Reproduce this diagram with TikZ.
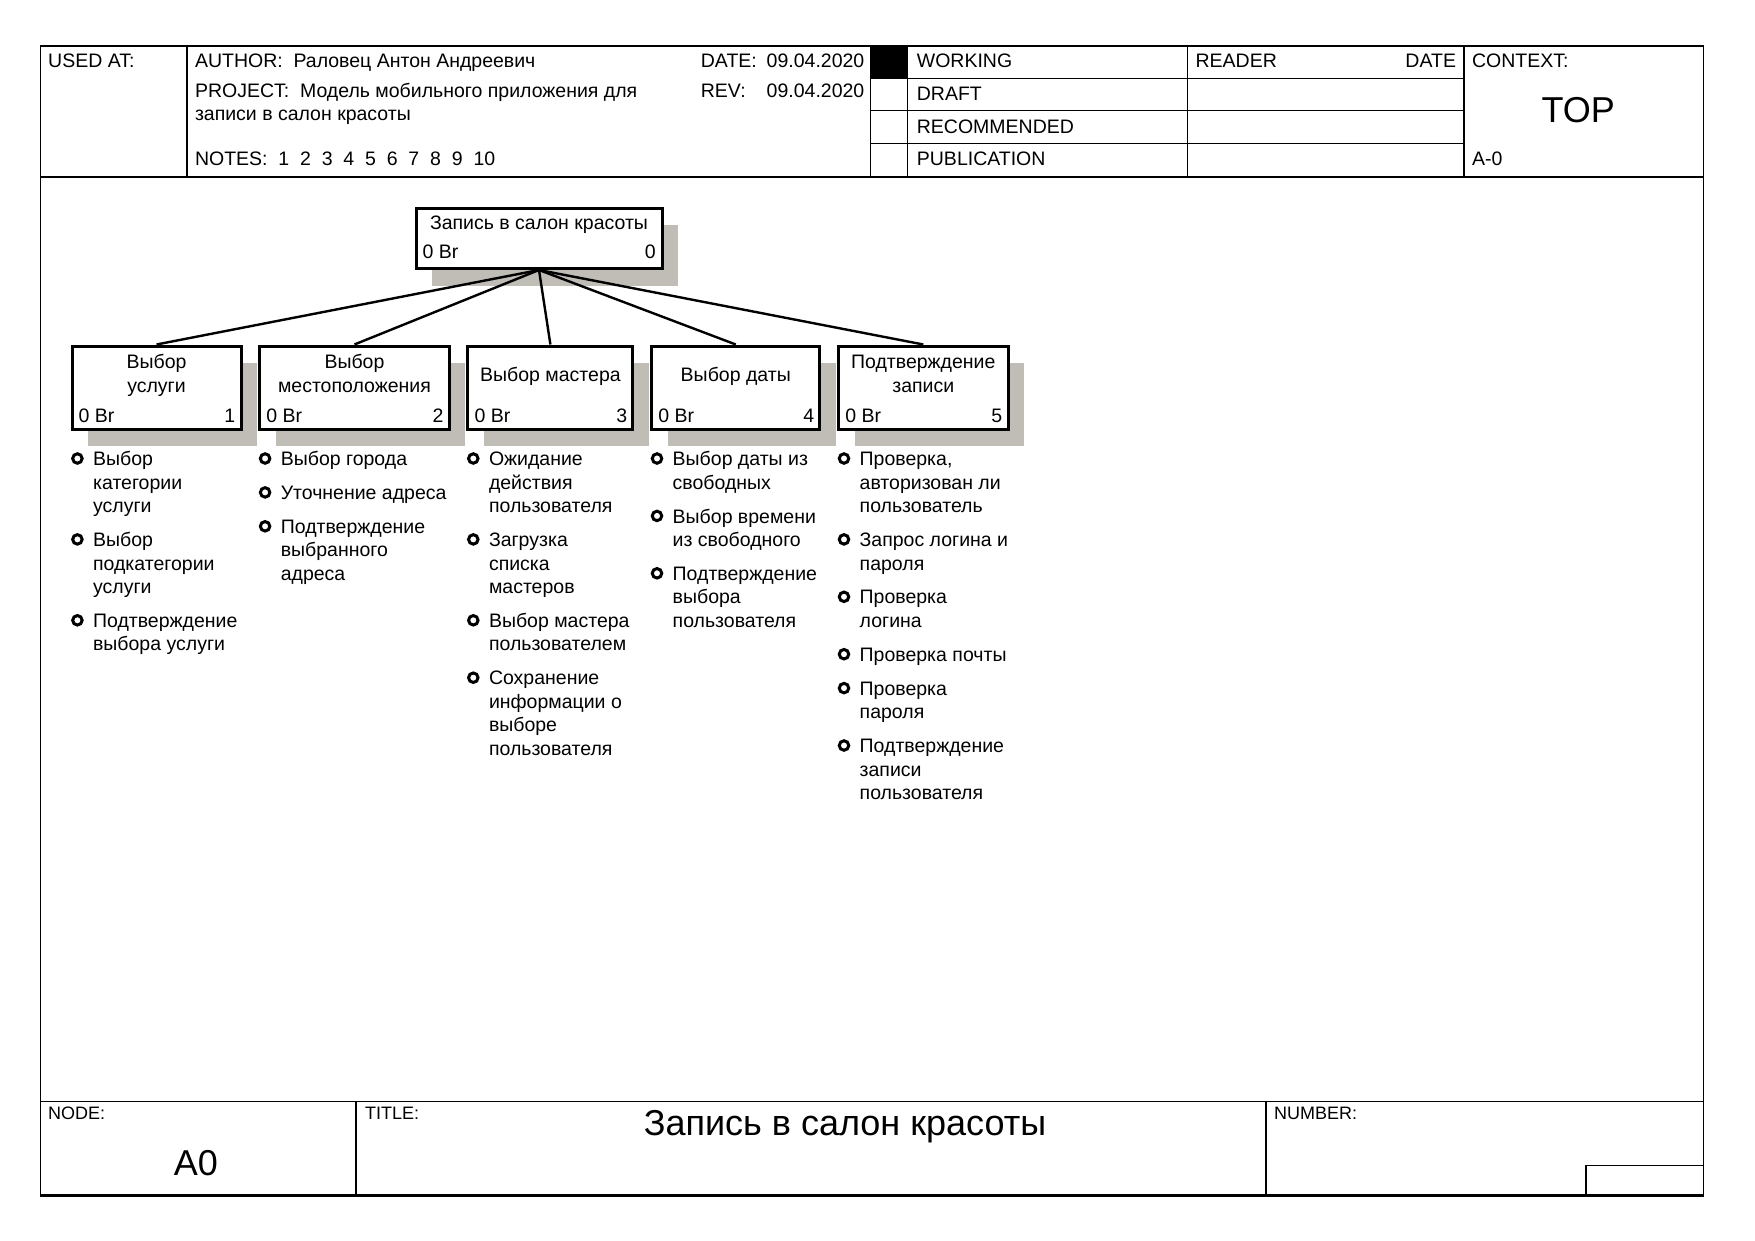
\documentclass[tikz,border=0pt]{standalone}
\usepackage{fontspec}
\setmainfont{Liberation Sans}
\usetikzlibrary{positioning}
\usetikzlibrary{shadows}

\definecolor{shadowgray}{RGB}{192,189,183}
\newcommand{\txt}{\fontsize{19.5}{23.5}\selectfont}
\newcommand{\bigtxt}{\fontsize{36}{40}\selectfont}
\newcommand{\lbltxt}{\fontsize{18}{21}\selectfont}
\newcommand{\ls}{\rule[-7.05pt]{0pt}{23.5pt}}

\begin{document}
\begin{tikzpicture}[x=1pt, y=-1pt,
    every node/.style={inner sep=0pt, font=\txt},
    frame/.style={line width=1.6pt},
    grid/.style={line width=1.2pt},
    hd/.style={anchor=base west},
    fn/.style={draw, fill=white, line width=3pt, minimum height=83pt,
      drop shadow={shadow xshift=16pt, shadow yshift=-17pt, fill=shadowgray, opacity=1}},
    ttl/.style={align=center},
    act/.style={align=left},
    dot/.style={circle, draw, line width=3pt, minimum size=9.5pt},
    link/.style={line width=2.4pt}]

    \useasboundingbox (0,0) rectangle (1755,1241);

    % form frame
    \draw[frame] (40.3,45.9) rectangle (1703.6,1195.4);
    \draw[line width=3.2pt] (40.3,1195.4) -- (1703.6,1195.4);
    \draw[line width=2pt] (40.3,176.9) -- (1703.6,176.9);
    \draw[grid] (186.9,45.9) -- (186.9,176.9);
    \draw[grid] (870.8,45.9) -- (870.8,176.9);
    \draw[grid] (907.7,45.9) -- (907.7,176.9);
    \draw[grid] (1187.6,45.9) -- (1187.6,176.9);
    \draw[grid] (1464,45.9) -- (1464,176.9);
    \draw[grid] (870.8,78.4) -- (1464,78.4);
    \draw[grid] (870.8,110.8) -- (1464,110.8);
    \draw[grid] (870.8,143.3) -- (1464,143.3);
    \fill (870.8,45.9) rectangle (907.7,78.4);
    \draw[grid] (40.3,1101.4) -- (1703.6,1101.4);
    \draw[grid] (355.9,1101.4) -- (355.9,1195.4);
    \draw[grid] (1265.9,1101.4) -- (1265.9,1195.4);
    \draw[grid] (1586,1195.4) -- (1586,1165.2) -- (1703.6,1165.2);

    % header
    \node[hd] (usedat) at (48,67.5) {USED AT:};
    \node[hd] (author) at (194.8,67.5) {AUTHOR:~~Раловец Антон Андреевич};
    \node[hd] (project) at (194.8,97.3) {PROJECT:~~Модель мобильного приложения для};
    \node[hd] (project2) at (194.8,120.8) {записи в салон красоты};
    \node[hd] (notes) at (194.8,165.8) {NOTES:~~1~~2~~3~~4~~5~~6~~7~~8~~9~~10};
    \node[hd] (date) at (700.7,67.5) {DATE:};
    \node[anchor=base east] (dateval) at (864.5,67.5) {09.04.2020};
    \node[hd] (rev) at (700.7,97.3) {REV:};
    \node[anchor=base east] (revval) at (864.5,97.3) {09.04.2020};
    \node[hd] (working) at (916.7,67.4) {WORKING};
    \node[hd] (draft) at (916.7,100.8) {DRAFT};
    \node[hd] (recommended) at (916.7,133.3) {RECOMMENDED};
    \node[hd] (publication) at (916.7,165.8) {PUBLICATION};
    \node[hd] (reader) at (1195.4,67.4) {READER};
    \node[anchor=base east] (readerdate) at (1456.2,67.4) {DATE};
    \node[hd] (context) at (1471.9,67.4) {CONTEXT:};
    \node[font=\bigtxt, anchor=base] (topmark) at (1578.2,122.2) {TOP};
    \node[hd] (aminus) at (1471.9,165.8) {A-0};

    % footer
    \node[hd, font=\lbltxt] (nodelbl) at (48,1119) {NODE:};
    \node[hd, font=\lbltxt] (titlelbl) at (364.9,1119) {TITLE:};
    \node[hd, font=\lbltxt] (numberlbl) at (1273.8,1119) {NUMBER:};
    \node[font=\bigtxt, anchor=base] (nodeval) at (195.9,1175.5) {A0};
    \node[font=\bigtxt, anchor=base] (titleval) at (845,1135.5) {Запись в салон красоты};

    % tree boxes
    \node[fn, minimum width=246pt, minimum height=60pt] (top) at (539,238.5) {};
    \node[fn, minimum width=169pt] (c1) at (156.5,387.5) {};
    \node[fn, minimum width=189.5pt, right=15.7pt of c1] (c2) {};
    \node[fn, minimum width=165pt, right=15.7pt of c2] (c3) {};
    \node[fn, minimum width=168.3pt, right=15.7pt of c3] (c4) {};
    \node[fn, minimum width=169.4pt, right=15.7pt of c4] (c5) {};

    \node[ttl, below=18.3pt of top.north, anchor=center] (topt) {\ls Запись в салон красоты\ls};
    \node[ttl, below=31.5pt of c1.north, anchor=center] (c1t) {\ls Выбор\\услуги\ls};
    \node[ttl, below=31.5pt of c2.north, anchor=center] (c2t) {\ls Выбор\\местоположения\ls};
    \node[ttl, below=32.5pt of c3.north, anchor=center] (c3t) {\ls Выбор мастера\ls};
    \node[ttl, below=32.5pt of c4.north, anchor=center] (c4t) {\ls Выбор даты\ls};
    \node[ttl, below=31.5pt of c5.north, anchor=center] (c5t) {\ls Подтверждение\\записи\ls};

    \node[above right=11.7pt and 8pt of top.south west, anchor=base west] (topbr) {0 Br};
    \node[above left=11.7pt and 7.5pt of top.south east, anchor=base east] (topnr) {0};
    \node[above right=7.8pt and 8pt of c1.south west, anchor=base west] (c1br) {0 Br};
    \node[above left=7.8pt and 7pt of c1.south east, anchor=base east] (c1nr) {1};
    \node[above right=7.8pt and 8pt of c2.south west, anchor=base west] (c2br) {0 Br};
    \node[above left=7.8pt and 7pt of c2.south east, anchor=base east] (c2nr) {2};
    \node[above right=7.8pt and 8pt of c3.south west, anchor=base west] (c3br) {0 Br};
    \node[above left=7.8pt and 7pt of c3.south east, anchor=base east] (c3nr) {3};
    \node[above right=7.8pt and 8pt of c4.south west, anchor=base west] (c4br) {0 Br};
    \node[above left=7.8pt and 7pt of c4.south east, anchor=base east] (c4nr) {4};
    \node[above right=7.8pt and 8pt of c5.south west, anchor=base west] (c5br) {0 Br};
    \node[above left=7.8pt and 7pt of c5.south east, anchor=base east] (c5nr) {5};

    \draw[link] (top.south) -- (c1.north);
    \draw[link] (top.south) -- (c2.north);
    \draw[link] (top.south) -- (c3.north);
    \draw[link] (top.south) -- (c4.north);
    \draw[link] (top.south) -- (c5.north);

    % activity lists
    \node[act, below right=18.5pt and 22.4pt of c1.south west] (a11) {\ls Выбор\\категории\\услуги\ls};
    \node[act, below right=10pt and 0pt of a11.south west] (a12) {\ls Выбор\\подкатегории\\услуги\ls};
    \node[act, below right=10pt and 0pt of a12.south west] (a13) {\ls Подтверждение\\выбора услуги\ls};

    \node[act, below right=18.5pt and 22.4pt of c2.south west] (a21) {\ls Выбор города\ls};
    \node[act, below right=10pt and 0pt of a21.south west] (a22) {\ls Уточнение адреса\ls};
    \node[act, below right=10pt and 0pt of a22.south west] (a23) {\ls Подтверждение\\выбранного\\адреса\ls};

    \node[act, below right=18.5pt and 22.4pt of c3.south west] (a31) {\ls Ожидание\\действия\\пользователя\ls};
    \node[act, below right=10pt and 0pt of a31.south west] (a32) {\ls Загрузка\\списка\\мастеров\ls};
    \node[act, below right=10pt and 0pt of a32.south west] (a33) {\ls Выбор мастера\\пользователем\ls};
    \node[act, below right=10pt and 0pt of a33.south west] (a34) {\ls Сохранение\\информации о\\выборе\\пользователя\ls};

    \node[act, below right=18.5pt and 22.4pt of c4.south west] (a41) {\ls Выбор даты из\\свободных\ls};
    \node[act, below right=10pt and 0pt of a41.south west] (a42) {\ls Выбор времени\\из свободного\ls};
    \node[act, below right=10pt and 0pt of a42.south west] (a43) {\ls Подтверждение\\выбора\\пользователя\ls};

    \node[act, below right=18.5pt and 22.4pt of c5.south west] (a51) {\ls Проверка,\\авторизован ли\\пользователь\ls};
    \node[act, below right=10pt and 0pt of a51.south west] (a52) {\ls Запрос логина и\\пароля\ls};
    \node[act, below right=10pt and 0pt of a52.south west] (a53) {\ls Проверка\\логина\ls};
    \node[act, below right=10pt and 0pt of a53.south west] (a54) {\ls Проверка почты\ls};
    \node[act, below right=10pt and 0pt of a54.south west] (a55) {\ls Проверка\\пароля\ls};
    \node[act, below right=10pt and 0pt of a55.south west] (a56) {\ls Подтверждение\\записи\\пользователя\ls};

    \foreach \a in {a11,a12,a13,a21,a22,a23,a31,a32,a33,a34,a41,a42,a43,a51,a52,a53,a54,a55,a56}
        \node[dot, below left=9.5pt and 15.5pt of \a.north west, anchor=center] (b\a) {};
\end{tikzpicture}
\end{document}
